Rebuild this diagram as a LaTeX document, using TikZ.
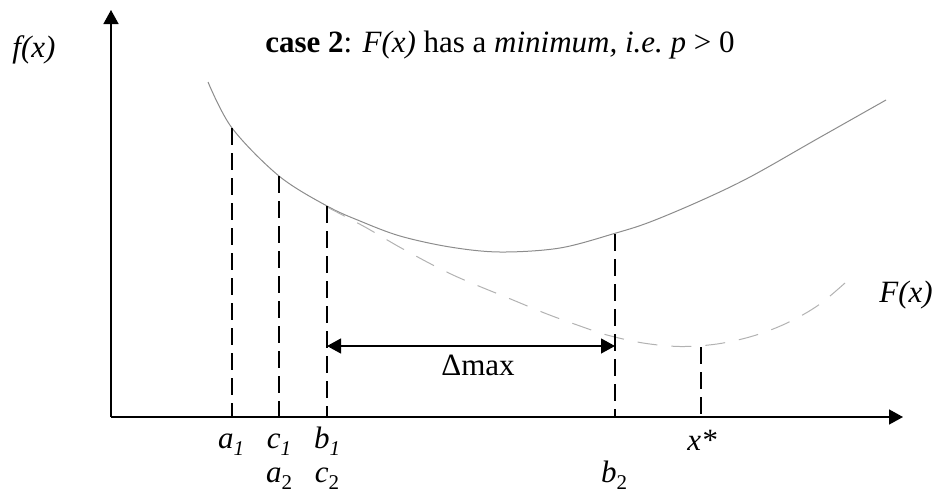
\documentclass[tikz,border=0pt]{standalone}
\usepackage{fontspec}
\setmainfont{Liberation Serif}
\usetikzlibrary{arrows.meta}
\newcommand\sublab[2]{\textit{#1}\raisebox{-0.25em}{\fontsize{21}{21}\selectfont #2}}
\tikzset{
  lbl/.style={inner sep=0pt, anchor=base, font=\fontsize{31}{37}\selectfont},
  axisline/.style={line width=1.5pt, -{Triangle[length=14pt,width=15pt]}},
  vdash/.style={line width=1.2pt, dash pattern=on 17pt off 8pt},
  fcurve/.style={line width=1pt, draw=black!45},
  Fcurve/.style={line width=1pt, draw=black!30, dash pattern=on 20pt off 14pt},
  dimarrow/.style={line width=1.2pt, {Triangle[length=14pt,width=15pt]}-{Triangle[length=14pt,width=15pt]}}
}
\begin{document}
\begin{tikzpicture}[x=1pt,y=-1pt]
\path[use as bounding box] (0,0) rectangle (936,493);
% axes
\coordinate (O) at (111,417);
\coordinate (Ytop) at (111,10);
\coordinate (Xend) at (903,417);
\draw[axisline] (O) -- (Ytop);
\draw[axisline] (O) -- (Xend);
% curves
\draw[fcurve] plot[smooth, tension=0.55] coordinates {(208,82) (232,128) (279,176) (327,206) (360,221) (400,236) (450,247) (500,252) (560,248) (616,233) (650,222) (700,201) (750,177) (817,139) (886,100)};
\draw[Fcurve] plot[smooth, tension=0.55] coordinates {(327,207) (365,227) (403,249) (453,275) (513,300) (547,314) (580,326) (607,335) (643,343) (680,346.5) (717,344) (753,336) (787,323) (820,304) (855,274)};
% vertical dashed lines
\coordinate (a1t) at (232,128); \coordinate (a1b) at (232,417);
\coordinate (c1t) at (279,176); \coordinate (c1b) at (279,417);
\coordinate (b1t) at (327,206); \coordinate (b1b) at (327,417);
\coordinate (b2t) at (615,234); \coordinate (b2b) at (615,417);
\coordinate (xst) at (701,347); \coordinate (xsb) at (701,417);
\draw[vdash] (a1t) -- (a1b);
\draw[vdash] (c1t) -- (c1b);
\draw[vdash] (b1t) -- (b1b);
\draw[vdash] (b2t) -- (b2b);
\draw[vdash] (xst) -- (xsb);
% delta max
\coordinate (dl) at (327,346);
\coordinate (dr) at (615,346);
\draw[dimarrow] (dl) -- (dr);
\node[lbl] (dmax) at (478,375) {Δmax};
% labels
\node[lbl] (fx) at (34,57) {\textit{f(x)}};
\node[lbl] (title) at (500,52) {\textbf{case 2}: \textit{F(x)} has a \textit{minimum, i.e.\ p} > 0};
\node[lbl] (Fx) at (906,302) {\textit{F(x)}};
\node[lbl] (la1) at (231,448) {\sublab{a}{\textit{1}}};
\node[lbl] (lc1) at (279,448) {\sublab{c}{\textit{1}}};
\node[lbl] (lb1) at (327,448) {\sublab{b}{\textit{1}}};
\node[lbl] (la2) at (279,482) {\sublab{a}{2}};
\node[lbl] (lc2) at (327,482) {\sublab{c}{2}};
\node[lbl] (lb2) at (614,482) {\sublab{b}{2}};
\node[lbl] (lxs) at (702,450) {\textit{x*}};
\end{tikzpicture}
\end{document}
